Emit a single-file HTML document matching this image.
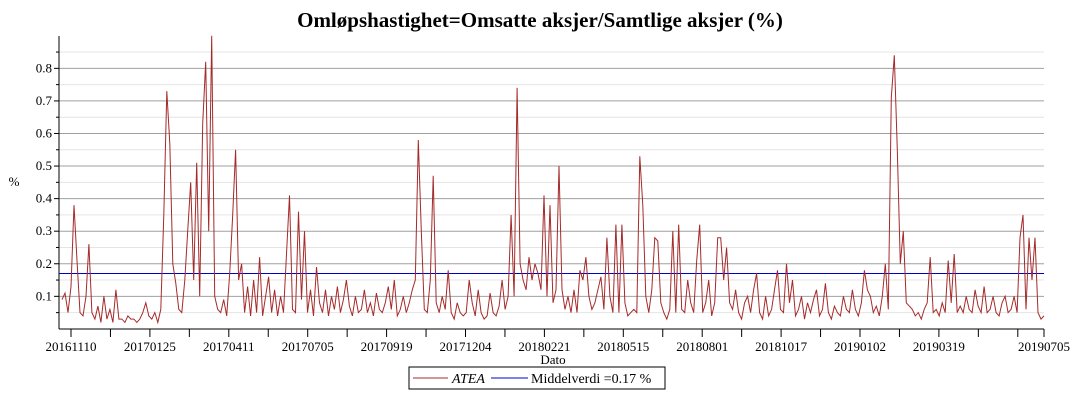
<!DOCTYPE html>
<html><head><meta charset="utf-8"><style>
body{margin:0;background:#fff;width:1076px;height:400px;overflow:hidden}
svg, svg text{font-family:"Liberation Serif","DejaVu Serif",serif}
</style></head><body>
<svg id="chart" width="1076" height="400" viewBox="0 0 1076 400" xmlns="http://www.w3.org/2000/svg" font-family="Liberation Serif, serif">
<text x="540" y="27" text-anchor="middle" font-size="21" font-weight="bold" font-family="Liberation Serif, serif">Omløpshastighet=Omsatte aksjer/Samtlige aksjer (%)</text>
<text x="14" y="186" text-anchor="middle" font-size="13" font-family="Liberation Serif, serif">%</text>
<text x="553" y="364" text-anchor="middle" font-size="13" font-family="Liberation Serif, serif">Dato</text>
<g id="grid"></g><g id="yaxis"></g><g id="xaxis"></g><g id="series"></g>
<g>
<rect x="409" y="367" width="256" height="22" fill="#fff" stroke="#000" stroke-width="1"/>
<line x1="413" y1="378" x2="448" y2="378" stroke="#a52a2a" stroke-width="1"/>
<text x="452" y="383" font-size="14" font-style="italic" font-family="Liberation Serif, serif">ATEA</text>
<line x1="491" y1="378" x2="528" y2="378" stroke="#0000cc" stroke-width="1"/>
<text x="531" y="383" font-size="14" font-family="Liberation Serif, serif">Middelverdi =0.17 %</text>
</g>
</svg>
<script>
const values=[.09,.11,.05,.13,.38,.21,.05,.04,.1,.26,
.05,.03,.07,.02,.1,.03,.06,.02,.12,.03,
.03,.02,.04,.03,.03,.02,.03,.05,.08,.04,
.03,.05,.02,.06,.35,.73,.57,.2,.14,.06,
.05,.15,.3,.45,.15,.51,.1,.63,.82,.3,
.9,.1,.06,.05,.09,.04,.17,.35,.55,.15,
.2,.05,.13,.04,.15,.05,.22,.04,.1,.16,
.05,.12,.04,.1,.05,.23,.41,.06,.05,.36,
.09,.3,.05,.12,.04,.19,.08,.05,.12,.04,
.1,.06,.13,.05,.09,.15,.07,.04,.1,.05,
.06,.12,.05,.08,.04,.11,.06,.05,.08,.13,
.06,.15,.04,.06,.1,.05,.08,.12,.15,.58,
.3,.06,.05,.15,.47,.08,.05,.1,.06,.18,
.05,.03,.08,.05,.04,.05,.15,.08,.04,.12,
.05,.03,.04,.11,.05,.04,.07,.15,.06,.1,
.35,.1,.74,.2,.15,.12,.22,.15,.2,.17,
.12,.41,.1,.38,.08,.12,.5,.12,.06,.1,
.05,.12,.05,.18,.15,.22,.1,.06,.08,.12,
.16,.06,.28,.1,.05,.32,.05,.32,.08,.04,
.05,.06,.05,.53,.38,.1,.05,.12,.28,.27,
.08,.05,.03,.06,.3,.05,.32,.06,.05,.15,
.08,.05,.21,.32,.05,.08,.15,.04,.08,.28,
.28,.15,.25,.08,.06,.12,.05,.03,.08,.1,
.05,.12,.17,.05,.03,.1,.04,.06,.12,.18,
.06,.05,.2,.08,.15,.04,.06,.1,.03,.08,
.05,.09,.12,.04,.06,.14,.05,.03,.07,.05,
.04,.1,.06,.05,.12,.06,.04,.08,.18,.12,
.1,.05,.07,.04,.1,.2,.06,.71,.84,.55,
.2,.3,.08,.07,.06,.04,.05,.03,.06,.08,
.22,.05,.06,.04,.08,.05,.21,.08,.23,.05,
.07,.05,.1,.06,.05,.12,.07,.05,.13,.05,
.06,.1,.05,.04,.08,.1,.05,.06,.1,.05,
.28,.35,.06,.28,.15,.28,.05,.03,.04];
const meanValue=0.17;
const yTicks=[0.1,0.2,0.3,0.4,0.5,0.6,0.7,0.8];
const yMinor=[0.05,0.15,0.25,0.35,0.45,0.55,0.65,0.75,0.85];
const xLabels=["20161110","20170125","20170411","20170705","20170919","20171204","20180221","20180515","20180801","20181017","20190102","20190319"];
const lastLabel="20190705";
const NS="http://www.w3.org/2000/svg";
const L=59,R=1044,T=36,B=329,X0=62;
const FF="Liberation Serif, serif";
function ys(v){return 328.9-v*325.7;}
function xs(i){return X0+i*(R-X0)/(values.length-1);}
function mk(tag,attrs,parent){const e=document.createElementNS(NS,tag);for(const k in attrs)e.setAttribute(k,attrs[k]);parent.appendChild(e);return e;}
const grid=document.getElementById('grid'),ya=document.getElementById('yaxis'),xa=document.getElementById('xaxis'),se=document.getElementById('series');
yMinor.forEach(v=>{const l=mk('line',{x1:L,x2:R,y1:ys(v),y2:ys(v),stroke:'#e4e4e4','stroke-width':1},grid);


const t=mk('line',{x1:L-3,x2:L,y1:ys(v),y2:ys(v),stroke:'#000'},ya);

});
yTicks.forEach(v=>{const l=mk('line',{x1:L,x2:R,y1:ys(v),y2:ys(v),stroke:'#a0a0a0','stroke-width':1},grid);


const t=mk('line',{x1:L-5,x2:L,y1:ys(v),y2:ys(v),stroke:'#000'},ya);


const tx=mk('text',{x:L-7,y:ys(v)+4,'text-anchor':'end','font-size':13,'font-family':FF},ya);tx.textContent=v.toFixed(1);

});
const ax=mk('line',{x1:L,x2:L,y1:T,y2:B,stroke:'#000'},ya);


const bx=mk('line',{x1:L,x2:R,y1:B,y2:B,stroke:'#000'},xa);


const step=39.45;
for(let k=0;k<25;k++){const x=71+k*step;const t=mk('line',{x1:x,x2:x,y1:B,y2:B+8,stroke:'#000'},xa);


if(k%2===0&&xLabels[k/2]){const tx=mk('text',{x:x,y:351,'text-anchor':'middle','font-size':13,'font-family':FF},xa);tx.textContent=xLabels[k/2];

}}
const te=mk('line',{x1:R,x2:R,y1:B,y2:B+8,stroke:'#000'},xa);


const tl=mk('text',{x:R,y:351,'text-anchor':'middle','font-size':13,'font-family':FF},xa);tl.textContent=lastLabel;


const mean=mk('line',{x1:L,x2:R,y1:ys(meanValue),y2:ys(meanValue),stroke:'#0000cc','stroke-width':1},se);


const pl=mk('polyline',{points:values.map((v,i)=>xs(i).toFixed(1)+','+ys(v).toFixed(1)).join(' '),fill:'none',stroke:'#a52a2a','stroke-width':1},se);


</script>
</body></html>
